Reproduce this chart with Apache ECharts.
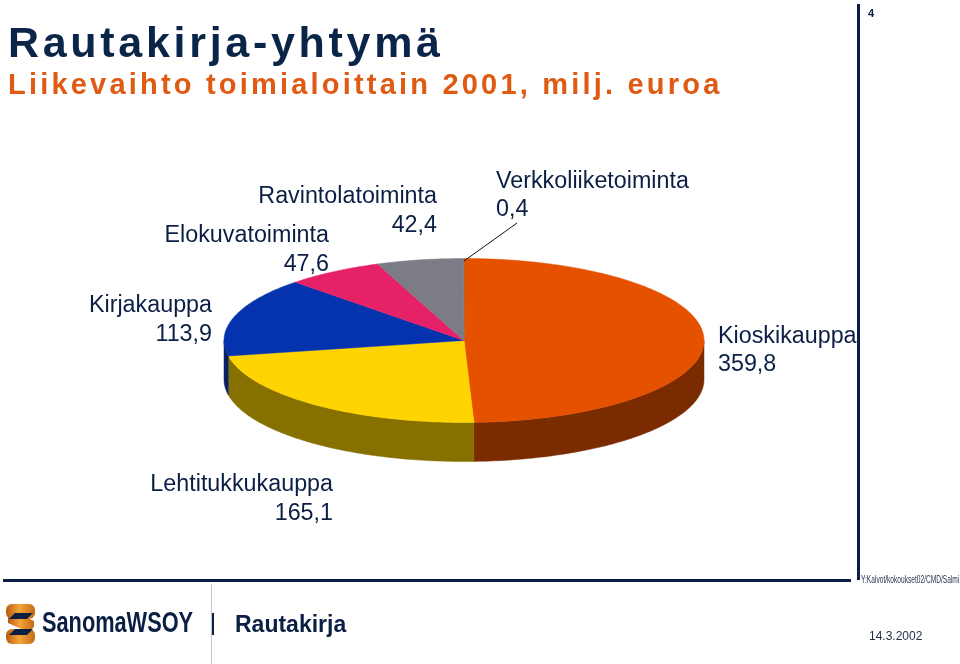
<!DOCTYPE html>
<html><head><meta charset="utf-8">
<style>html,body{margin:0;padding:0;background:#fff}#c{width:960px;height:664px}</style>
<script src="https://cdn.jsdelivr.net/npm/echarts@6/dist/echarts.min.js"></script>
</head><body><div id="c"></div>
<script>
const categories = ['Kioskikauppa','Lehtitukkukauppa','Kirjakauppa','Elokuvatoiminta','Ravintolatoiminta','Verkkoliiketoiminta'];
const seriesValues = [359.8,165.1,113.9,47.6,42.4,0.4];
const topColors = ['#E65100','#FFD400','#0533AE','#E62167','#7B7C85','#7B7C85'];
const wallColors = ['#7A2B00','#857000','#0A2063','#7A1036','#3F4046','#3F4046'];
const pieBox = {cx:464,cy:340.5,rx:240,ry:82,depth:39};
const labelPos = [
  {x:718,y1:337,y2:365,align:'left'},
  {x:333,y1:485,y2:514,align:'right'},
  {x:212,y1:306,y2:335,align:'right'},
  {x:329,y1:236,y2:265,align:'right'},
  {x:437,y1:197,y2:226,align:'right'},
  {x:496,y1:182,y2:210,align:'left'}
];
const ink = '#0B1F45';
const sans = '"Liberation Sans", Arial, sans-serif';
const spacing = {'Rautakirja-yhtymä':'3.7px','Liikevaihto toimialoittain 2001, milj. euroa':'3.2px'};

const proto = CanvasRenderingContext2D.prototype, origFill = proto.fillText;
proto.fillText = function(t,x,y,m){
  this.letterSpacing = spacing[t] || '0px';
  return m===undefined ? origFill.call(this,t,x,y) : origFill.call(this,t,x,y,m);
};

const total = seriesValues.reduce((a,b)=>a+b,0);
const pt = (deg,dy)=>{const r=deg*Math.PI/180;return [pieBox.cx+pieBox.rx*Math.sin(r),pieBox.cy-pieBox.ry*Math.cos(r)+(dy||0)];};
function arcPts(a,b,dy){const out=[];const n=Math.max(1,Math.ceil(b-a));for(let i=0;i<=n;i++)out.push(pt(a+(b-a)*i/n,dy));return out;}

function renderItem(params,api){
  const i=params.dataIndex, v=api.value(0);
  let before=0; for(let k=0;k<i;k++)before+=seriesValues[k];
  const a0=before/total*360, a1=(before+v)/total*360;
  const children=[];
  const wa=Math.max(a0,90), wb=Math.min(a1,270);
  if(wb>wa){
    const t=arcPts(wa,wb,0), b=arcPts(wa,wb,pieBox.depth).reverse();
    children.push({type:'polygon',shape:{points:t.concat(b)},style:{fill:wallColors[i],stroke:wallColors[i],lineWidth:0.5}});
  }
  children.push({type:'polygon',shape:{points:[[pieBox.cx,pieBox.cy]].concat(arcPts(a0,a1,0))},style:{fill:topColors[i],stroke:topColors[i],lineWidth:0.5}});
  const lp=labelPos[i], valStr=String(v).replace('.',',');
  const tx=(s,y)=>({type:'text',z2:10,style:{text:s,x:lp.x,y:y,align:lp.align,verticalAlign:'middle',fill:ink,font:'23.3px '+sans}});
  children.push(tx(categories[i],lp.y1),tx(valStr,lp.y2));
  if(i===categories.length-1){
    children.push({type:'line',z2:10,shape:{x1:464,y1:261,x2:517,y2:223},style:{stroke:'#111',lineWidth:1}});
  }
  return {type:'group',children};
}

const chart=echarts.init(document.getElementById('c'),null,{renderer:'canvas',width:960,height:664});
const t=(s,x,y,font,fill,extra)=>Object.assign({type:'text',silent:true,style:{text:s,x,y,font,fill,verticalAlign:'middle'}},extra||{});
const tCond=(s,x,y,font,fill,sx)=>({type:'text',silent:true,x,y,scaleX:sx,style:{text:s,x:0,y:0,font,fill,verticalAlign:'middle'}});
const navyRect=(x,y,w,h,fill)=>({type:'rect',silent:true,shape:{x,y,width:w,height:h},style:{fill:fill||'#0B1F45'}});
const gold={type:'linear',x:0,y:0,x2:1,y2:0,colorStops:[{offset:0,color:'#B85A10'},{offset:0.45,color:'#F2A53A'},{offset:1,color:'#C76A14'}]};
chart.setOption({
  animation:false,
  backgroundColor:'#fff',
  graphic:[
    t('Rautakirja-yhtymä',8,45,'bold 43px '+sans,'#0B2548'),
    t('Liikevaihto toimialoittain 2001, milj. euroa',8,86,'bold 29px '+sans,'#DF5A12'),
    t('4',868,14,'bold 11px '+sans,'#0B1F45'),
    navyRect(3,579,848,3),
    navyRect(857,4,3,576),
    tCond('Y:Kalvot/kokoukset02/CMD/Salmi',861,580,'10px '+sans,'#2A3550',0.66),
    {type:'rect',silent:true,shape:{x:6,y:604,width:29,height:15,r:6},style:{fill:gold}},
    {type:'rect',silent:true,shape:{x:6,y:629,width:29,height:15,r:6},style:{fill:gold}},
    {type:'polygon',silent:true,shape:{points:[[8,616],[14,612],[34,621],[34,627],[28,632],[8,623]]},style:{fill:gold}},
    {type:'polygon',silent:true,shape:{points:[[15,613],[33,613],[27,619],[9,619]]},style:{fill:'#0B1F45'}},
    {type:'polygon',silent:true,shape:{points:[[15,629],[33,629],[27,635],[9,635]]},style:{fill:'#0B1F45'}},
    tCond('SanomaWSOY',42,624,'bold 29px '+sans,'#0B1F45',0.75),
    navyRect(211,584,1,80,'#C4C6CA'),
    navyRect(212,613,2,22),
    t('Rautakirja',235,626,'bold 23px '+sans,'#0B1F45'),
    t('14.3.2002',869,637,'12px '+sans,'#1F2D45')
  ],
  series:[{
    type:'custom',
    coordinateSystem:'none',
    silent:true,
    renderItem,
    data:seriesValues.map((v,i)=>({name:categories[i],value:[v]}))
  }]
});
</script></body></html>
